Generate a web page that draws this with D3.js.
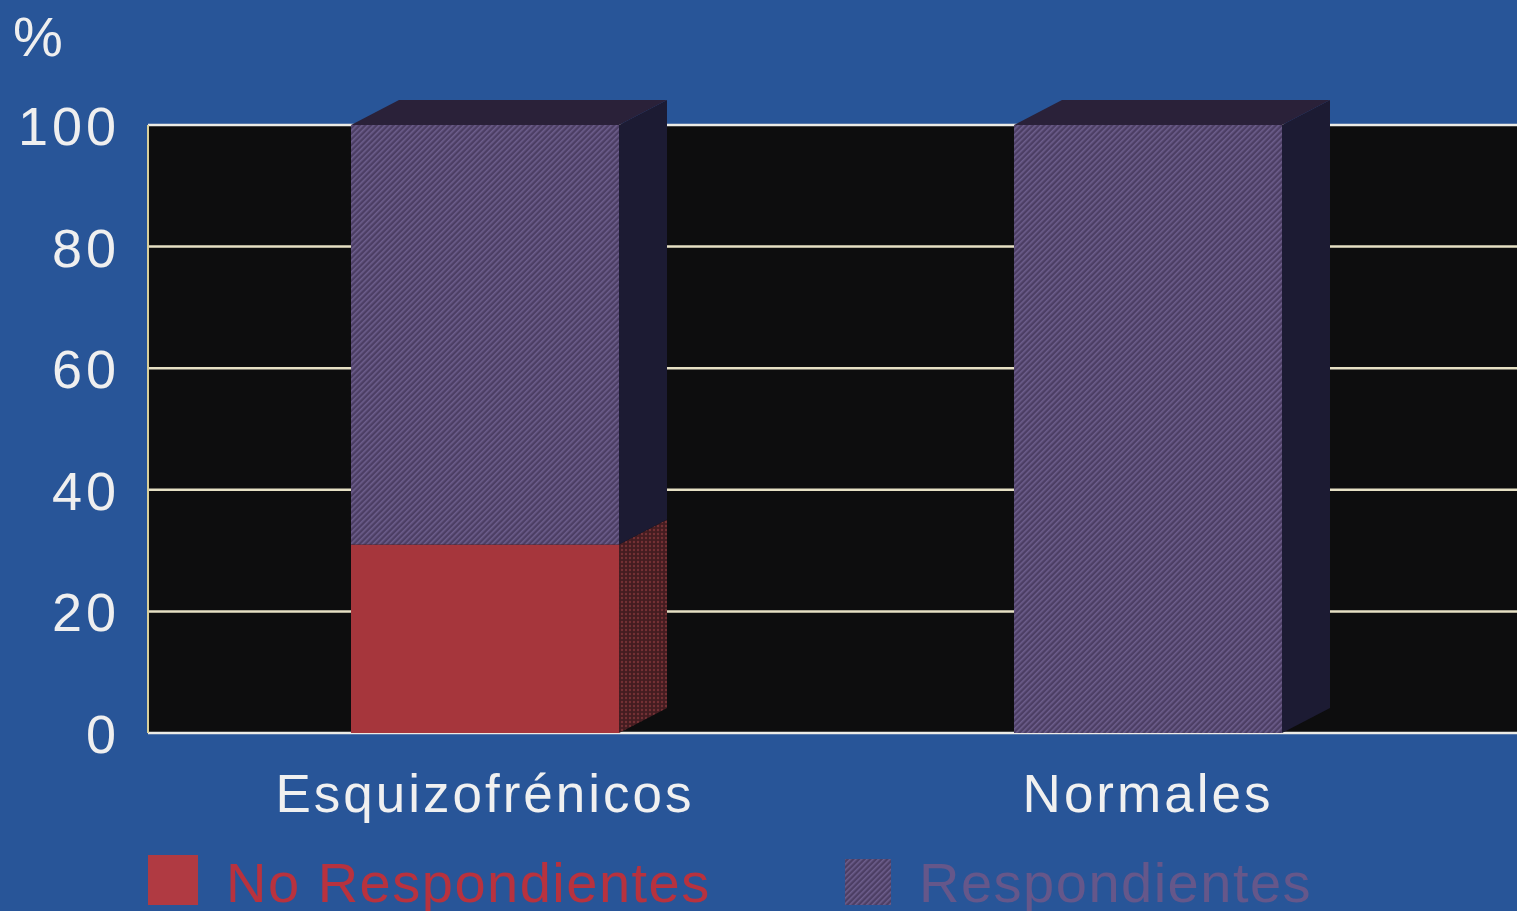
<!DOCTYPE html>
<html>
<head>
<meta charset="utf-8">
<script src="https://cdn.jsdelivr.net/npm/d3@7"></script>
<style>
  body { margin: 0; background: #285598; }
  svg { display: block; }
  text { font-family: "Liberation Sans", Arial, Helvetica, sans-serif; }
</style>
</head>
<body>
<script>
// data
const categories = ["Esquizofrénicos", "Normales"];
const seriesKeys = ["No Respondientes", "Respondientes"];
const noRespondientes = [31, 0];
const respondientes = [69, 100];
const yTicks = [0, 20, 40, 60, 80, 100];

const width = 1517,
  height = 911;

const svg = d3
  .select("body")
  .append("svg")
  .attr("width", width)
  .attr("height", height);

// textures
const defs = svg.append("defs");
const hatch = defs
  .append("pattern")
  .attr("id", "hatch")
  .attr("patternUnits", "userSpaceOnUse")
  .attr("width", 4)
  .attr("height", 4)
  .attr("patternTransform", "rotate(45)");
hatch.append("rect").attr("width", 4).attr("height", 4).attr("fill", "#4c3e64");
hatch.append("rect").attr("width", 1.6).attr("height", 4).attr("fill", "#6d5e8c");

const dots = defs
  .append("pattern")
  .attr("id", "reddots")
  .attr("patternUnits", "userSpaceOnUse")
  .attr("width", 4)
  .attr("height", 4);
dots.append("rect").attr("width", 4).attr("height", 4).attr("fill", "#441c20");
dots.append("circle").attr("cx", 2).attr("cy", 2).attr("r", 1.2).attr("fill", "#743034");

svg.append("rect").attr("width", width).attr("height", height).attr("fill", "#285598");

const y = d3.scaleLinear().domain([0, 100]).range([733, 125]);
const x = d3.scalePoint().domain(categories).range([485, 1148]);
const barW = 268,
  dx = 48,
  dy = 25;

const plotLeft = 148;

// black plot area
svg
  .append("rect")
  .attr("x", plotLeft)
  .attr("y", y(100))
  .attr("width", width - plotLeft)
  .attr("height", y(0) - y(100))
  .attr("fill", "#0d0d0e");

// gridlines
svg
  .append("g")
  .selectAll("line")
  .data(yTicks)
  .enter()
  .append("line")
  .attr("x1", plotLeft)
  .attr("x2", width)
  .attr("y1", d => y(d))
  .attr("y2", d => y(d))
  .attr("stroke", d => (d === 0 || d === 100 ? "#ecebe6" : "#e6e0c4"))
  .attr("stroke-width", 2.5);
svg
  .append("line")
  .attr("x1", plotLeft)
  .attr("x2", plotLeft)
  .attr("y1", y(100))
  .attr("y2", y(0))
  .attr("stroke", "#d8cf9a")
  .attr("stroke-width", 2);

// y axis labels
const yAxis = d3
  .axisLeft(y)
  .tickValues(yTicks)
  .tickSize(0)
  .tickPadding(28);
const gy = svg
  .append("g")
  .attr("transform", `translate(${plotLeft},0)`)
  .call(yAxis);
gy.select(".domain").remove();
gy.selectAll("text")
  .attr("fill", "#efefef")
  .attr("font-size", 54)
  .attr("letter-spacing", 4)
  .attr("font-family", "Liberation Sans, Arial, sans-serif")
  .attr("dy", "0.36em");

svg
  .append("text")
  .attr("x", 13)
  .attr("y", 56)
  .attr("fill", "#efefef")
  .attr("font-size", 56)
  .text("%");

// stacked bars with 3D depth
const table = categories.map((c, i) => ({
  cat: c,
  "No Respondientes": noRespondientes[i],
  Respondientes: respondientes[i]
}));
const stacked = d3.stack().keys(seriesKeys)(table);

const frontFill = { "No Respondientes": "#a6363c", Respondientes: "url(#hatch)" };
const sideFill = { "No Respondientes": "url(#reddots)", Respondientes: "#1c1b33" };

const bars = svg.append("g");
stacked.forEach(s => {
  const segs = s.filter(d => d[1] - d[0] > 0);
  // side face
  bars
    .selectAll(null)
    .data(segs)
    .enter()
    .append("polygon")
    .attr("points", d => {
      const x1 = x(d.data.cat) + barW / 2;
      return [
        [x1, y(d[1])],
        [x1 + dx, y(d[1]) - dy],
        [x1 + dx, y(d[0]) - dy],
        [x1, y(d[0])]
      ].join(" ");
    })
    .attr("fill", sideFill[s.key]);
  // front face
  bars
    .selectAll(null)
    .data(segs)
    .enter()
    .append("rect")
    .attr("x", d => x(d.data.cat) - barW / 2)
    .attr("y", d => y(d[1]))
    .attr("width", barW)
    .attr("height", d => y(d[0]) - y(d[1]))
    .attr("fill", frontFill[s.key]);
});

// top faces
bars
  .selectAll(null)
  .data(table)
  .enter()
  .append("polygon")
  .attr("points", d => {
    const x0 = x(d.cat) - barW / 2,
      x1 = x(d.cat) + barW / 2,
      yt = y(d["No Respondientes"] + d.Respondientes);
    return [
      [x0, yt],
      [x0 + dx, yt - dy],
      [x1 + dx, yt - dy],
      [x1, yt]
    ].join(" ");
  })
  .attr("fill", "#2a2139");

// category labels
svg
  .append("g")
  .selectAll("text")
  .data(categories)
  .enter()
  .append("text")
  .attr("x", d => x(d))
  .attr("y", 812)
  .attr("text-anchor", "middle")
  .attr("fill", "#f0f0f0")
  .attr("font-size", 53)
  .attr("letter-spacing", 3)
  .text(d => d);

// legend (cut off by the bottom edge, as in the original)
const legendItems = [
  { key: seriesKeys[0], x: 148, sq: 50, fill: "#b03a42", text: "#b8323e" },
  { key: seriesKeys[1], x: 845, sq: 46, fill: "url(#hatch)", text: "#65578a" }
];
const legend = svg.append("g").selectAll("g").data(legendItems).enter().append("g");
legend
  .append("rect")
  .attr("x", d => d.x)
  .attr("y", d => 905 - d.sq)
  .attr("width", d => d.sq)
  .attr("height", d => d.sq)
  .attr("fill", d => d.fill);
legend
  .append("text")
  .attr("x", d => d.x + d.sq + 28)
  .attr("y", 902)
  .attr("fill", d => d.text)
  .attr("font-size", 56)
  .attr("letter-spacing", 1.5)
  .text(d => d.key);
</script>
</body>
</html>
